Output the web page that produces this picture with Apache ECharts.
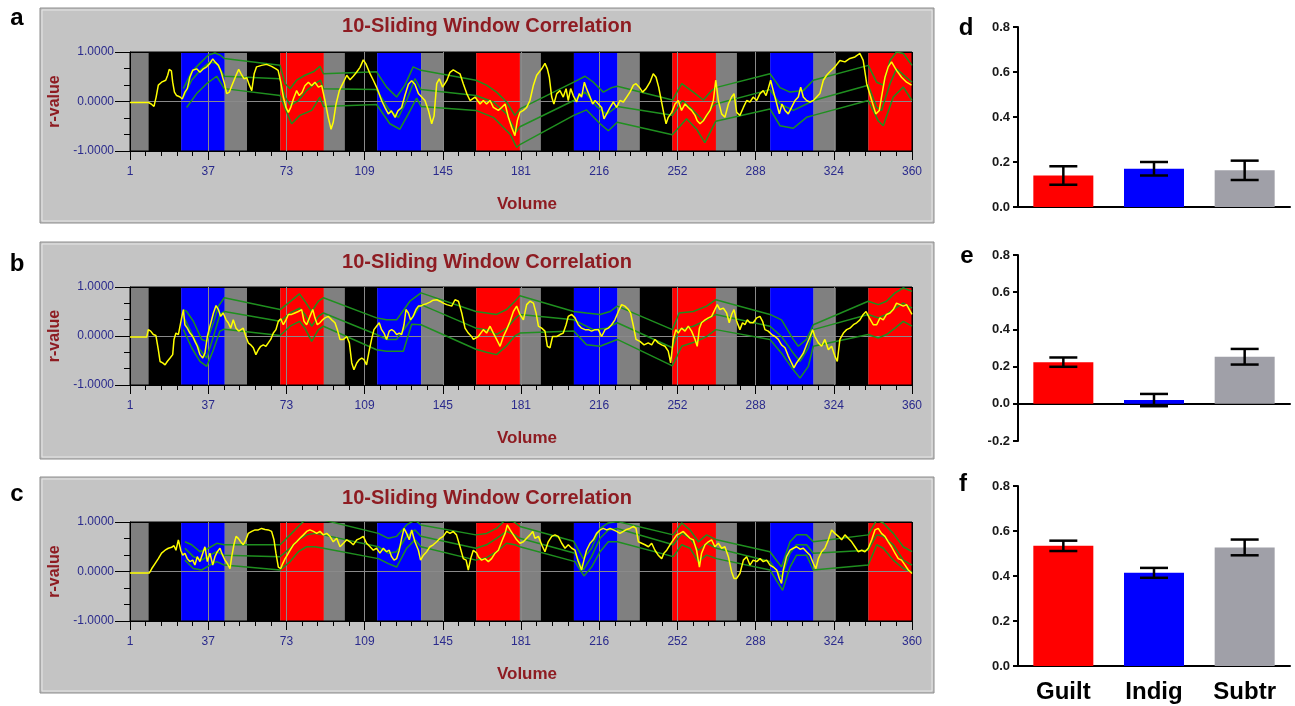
<!DOCTYPE html>
<html>
<head>
<meta charset="utf-8">
<script src="https://cdn.jsdelivr.net/npm/echarts@6/dist/echarts.min.js"></script>
<style>html,body{margin:0;background:#fff}#main{width:1295px;height:706px}</style>
</head>
<body>
<div id="main"></div>
<script>
// condition blocks along the volume axis
var bandStart = [1, 9.5, 24.5, 44.5, 54.7, 70, 90, 99.6, 114.5, 134.7, 145, 160, 180, 189.6, 204.8, 224.8, 235, 250, 270, 279.6, 294.9, 314.8, 325, 340];
var bandEnd   = [9.5, 24.5, 44.5, 54.7, 70, 90, 99.6, 114.5, 134.7, 145, 160, 180, 189.6, 204.8, 224.8, 235, 250, 270, 279.6, 294.9, 314.8, 325, 340, 360];
var bandKind  = ['gray','black','blue','gray','black','red','gray','black','blue','gray','black','red','gray','black','blue','gray','black','red','gray','black','blue','gray','black','red'];

// panel a: sliding r and the three green curves
var yellowA = [[1,-0.02],[9.5,-0.02],[11,-0.06],[12,-0.1],[13,0.09],[14,0.33],[15.5,0.39],[17.4,0.43],[18.3,0.53],[19,0.65],[20,0.62],[20.6,0.39],[21.4,0.19],[22.4,0.12],[24,0.09],[25,0.05],[26.2,0.19],[27.3,0.26],[28.5,0.49],[29.8,0.63],[31.6,0.66],[33.1,0.59],[34.7,0.66],[36.2,0.7],[37.7,0.77],[39,0.86],[40,0.8],[41.6,0.73],[42.8,0.6],[44.2,0.39],[45.4,0.16],[46.6,0.19],[48.1,0.36],[49.7,0.53],[50.9,0.65],[52,0.56],[53.3,0.46],[54.6,0.48],[55.8,0.33],[56.9,0.22],[58,0.56],[59.1,0.7],[61.4,0.73],[63.7,0.75],[66,0.71],[68,0.66],[69,0.63],[70.2,0.39],[71.4,0.09],[72.6,-0.12],[73.7,-0.22],[74.8,-0.12],[76,0.05],[77.5,0.22],[78.7,0.12],[80,0.18],[81.3,0.32],[82.9,0.39],[84.4,0.32],[85.9,0.39],[87.5,0.29],[89,0.32],[90.5,0.02],[92,-0.32],[93.3,-0.56],[94.3,-0.42],[95.6,-0.05],[97.1,0.22],[99,0.39],[100.5,0.53],[102,0.44],[103.5,0.51],[105,0.59],[106.6,0.69],[108.1,0.84],[109.3,0.76],[110.9,0.59],[112.7,0.43],[114.5,0.26],[116.5,0.02],[118,-0.12],[119.6,-0.25],[121,-0.19],[122.7,-0.32],[124,-0.19],[125.7,-0.12],[127.2,0.12],[128.8,0.35],[130.3,0.42],[131.8,0.35],[133.4,0.16],[134.9,0.09],[136.4,0.02],[138,-0.18],[139.5,-0.45],[140.6,-0.29],[141.8,0.36],[143,0.46],[144.5,0.29],[146.4,0.42],[147.9,0.59],[149.4,0.64],[151.3,0.59],[152.5,0.56],[154,0.36],[155.6,0.16],[157.1,0.02],[159.4,0.09],[161.7,-0.05],[163.2,0.02],[164.7,-0.05],[166.3,0.02],[167.8,-0.12],[170.1,-0.18],[171.6,-0.12],[173.2,-0.05],[174.7,-0.32],[176.2,-0.52],[177.7,-0.69],[178.8,-0.39],[180,-0.22],[181.6,-0.18],[183.1,-0.12],[184.6,0.02],[186.2,0.33],[187.7,0.53],[190,0.66],[191.5,0.77],[192.6,0.66],[193.5,0.49],[194.6,0.09],[195.6,-0.05],[196.9,0.16],[198.4,0.22],[199.9,0.09],[201.2,0.26],[202.2,0.02],[203.3,0.26],[204.5,0.12],[206,-0.01],[207.3,0.16],[208.3,0.09],[209.6,0.39],[210.6,0.26],[212.2,0.09],[213.4,-0.05],[214.5,0.02],[216,-0.05],[217.5,-0.12],[218.6,-0.35],[219.8,-0.25],[221.4,-0.12],[222.9,-0.01],[224.4,-0.12],[225.9,0.02],[227.5,-0.01],[229,0.09],[230.5,0.19],[232.1,0.33],[233.3,0.36],[234.8,0.29],[236.3,0.19],[237.9,0.26],[239.7,0.39],[241.2,0.56],[242.5,0.49],[243.7,0.29],[244.9,0.02],[246.1,-0.25],[247.1,-0.45],[248.1,-0.32],[249.7,-0.22],[251.2,-0.05],[252.7,0.02],[254.2,-0.18],[255.8,-0.05],[257.3,-0.12],[258.8,-0.18],[260.4,-0.28],[261.4,-0.39],[262.7,-0.45],[264.2,-0.39],[265.7,-0.28],[267.3,-0.18],[268.8,0.02],[269.9,0.43],[271.1,0.02],[272.6,-0.25],[274.1,-0.32],[275.7,-0.05],[277.2,0.09],[278.3,0.16],[279.5,-0.22],[281,-0.28],[282.6,-0.12],[284.1,0.02],[285.6,-0.01],[287.1,0.09],[288.7,0.02],[290.2,0.16],[291.7,0.22],[293,0.12],[294,0.26],[295.1,0.43],[296.3,0.22],[297.5,0.02],[299.1,-0.25],[300.3,-0.05],[301.7,-0.18],[303.2,-0.25],[304.7,-0.12],[306.3,0.02],[307.8,0.09],[308.9,0.29],[310.1,0.09],[311.6,0.02],[313.2,-0.01],[314.7,0.02],[316.2,0.09],[317.7,0.16],[319.3,0.43],[320.8,0.53],[322.3,0.6],[324.6,0.7],[326.9,0.83],[329.2,0.8],[331.5,0.87],[333.8,0.9],[336.1,0.97],[337.6,0.83],[339.2,0.36],[341.5,0.02],[343.4,-0.25],[345,-0.18],[346,0.09],[347.6,0.49],[349.1,0.7],[350.6,0.8],[352.9,0.63],[355.2,0.49],[357.5,0.39],[359.8,0.33]];
var greenUpA = [[25.5,0.26],[29.3,0.6],[33.1,0.77],[37,0.94],[40,0.98],[42.3,0.94],[44.3,0.87],[69.9,0.73],[72.2,0.36],[74.5,0.26],[77.5,0.43],[81.3,0.53],[85.2,0.6],[88.2,0.71],[89.8,0.56],[114.2,0.6],[118.8,0.29],[123.4,0.09],[127.2,0.33],[131,0.7],[134.6,0.63],[159.8,0.43],[164.7,0.33],[169.3,0.19],[173.9,-0.01],[177.7,-0.28],[180,-0.15],[204.7,0.39],[209.9,0.51],[213.7,0.39],[218.3,0.19],[222.1,0.28],[224.7,0.31],[250,0.03],[254.3,0.36],[259.6,0.19],[264.2,0.03],[268,0.22],[269.9,0.28],[294.8,0.56],[299.4,0.28],[304,0.19],[310.1,0.22],[314.7,0.43],[339.9,0.73],[343.8,0.39],[346.8,0.33],[349.9,0.83],[352.9,1.0],[356,0.97],[360,0.73]];
var greenMidA = [[25.5,0.09],[29.3,0.43],[33.9,0.66],[37.7,0.8],[40.8,0.77],[44.3,0.51],[69.9,0.46],[72.2,0.09],[74.8,-0.08],[78.3,0.02],[82.1,0.22],[85.9,0.36],[88.5,0.43],[89.8,0.26],[114.2,0.24],[119.6,-0.15],[124.2,-0.32],[128,0.02],[131.8,0.46],[134.6,0.24],[159.8,0.12],[167.8,-0.01],[173.9,-0.25],[178.2,-0.62],[180,-0.51],[204.7,0.02],[209.9,0.19],[215.2,-0.1],[219.8,-0.26],[224.7,-0.1],[250,-0.28],[254.7,0.02],[259.6,-0.18],[264.2,-0.39],[268.5,-0.1],[269.9,-0.05],[294.8,0.24],[299.4,-0.05],[305.5,-0.18],[311.6,-0.05],[314.7,0.02],[339.9,0.33],[343.8,-0.12],[346,-0.18],[349.9,0.36],[352.9,0.66],[360,0.39]];
var greenLowA = [[27,-0.12],[31.6,0.16],[36.2,0.36],[40.8,0.51],[44.3,0.26],[69.9,0.12],[72.6,-0.18],[75.2,-0.45],[79,-0.28],[84.4,-0.18],[88.2,0.09],[89.8,-0.1],[114.2,-0.06],[120.3,-0.45],[124.9,-0.56],[128.8,-0.25],[132.6,0.07],[134.6,-0.1],[159.8,-0.18],[167.8,-0.32],[175.5,-0.66],[178.5,-0.93],[180,-0.87],[204.7,-0.28],[210.6,-0.17],[216.8,-0.45],[220.6,-0.59],[224.7,-0.42],[250,-0.67],[256.5,-0.35],[261.1,-0.56],[264.9,-0.83],[269.9,-0.4],[294.8,-0.15],[299.4,-0.49],[305.5,-0.54],[311.6,-0.32],[314.7,-0.28],[339.9,0.02],[344.5,-0.39],[346.8,-0.49],[351.4,0.09],[356,0.29],[360,0.02]];

// panel b
var yellowB = [[1,-0.02],[8.7,-0.02],[9.4,0.13],[10.5,0.1],[11.7,0.03],[12.9,0.01],[14,-0.28],[14.8,-0.52],[16,-0.55],[17.1,-0.59],[18.1,-0.52],[19.4,-0.45],[20.6,-0.38],[21.2,-0.07],[22.1,0.06],[23.2,0.03],[24,0.07],[24.7,0.37],[25.5,0.54],[26.2,0.23],[27.3,0.16],[28.5,0.06],[29.8,-0.01],[30.8,-0.11],[31.9,-0.21],[33.1,-0.38],[34.4,-0.45],[35.4,-0.35],[36.5,-0.01],[37.7,0.2],[39.3,0.47],[40.5,0.62],[41.6,0.54],[42.6,0.4],[43.8,0.47],[45.1,0.33],[46.1,0.27],[47.2,0.16],[48.4,0.33],[49.7,0.16],[50.9,0.1],[51.8,0.13],[53,0.16],[54.2,-0.01],[55.3,-0.14],[56.4,-0.18],[57.6,-0.24],[58.8,-0.38],[59.9,-0.28],[61,-0.21],[62.2,-0.18],[63.4,-0.21],[64.5,-0.14],[65.6,-0.07],[66.8,0.06],[68,0.13],[69.1,0.3],[70.2,0.35],[71.4,0.23],[72.6,0.33],[73.7,0.44],[75.2,0.44],[76.7,0.47],[78.3,0.5],[79.8,0.54],[80.9,0.3],[82.1,0.23],[83.6,0.4],[84.9,0.54],[85.9,0.37],[87,0.23],[88.2,0.27],[89.4,0.33],[90.5,0.37],[92,0.4],[93.6,0.33],[95.1,0.27],[96.2,0.13],[97.4,-0.07],[99,-0.07],[100.5,-0.01],[101.7,-0.14],[102.8,-0.55],[103.8,-0.69],[105.1,-0.55],[106.3,-0.48],[107.4,-0.45],[108.4,-0.48],[109.6,-0.59],[110.9,-0.28],[111.9,-0.07],[113,0.13],[114.2,0.2],[115.4,0.27],[116.5,0.13],[117.6,0.06],[118.8,-0.07],[120,0.1],[121.1,0.13],[122.2,0.1],[123.4,0.03],[124.6,0.06],[125.7,0.03],[126.8,0.23],[127.7,0.54],[128.8,0.47],[129.8,0.33],[131,0.4],[132.3,0.54],[133.4,0.61],[134.4,0.61],[135.7,0.64],[137.2,0.66],[138.7,0.69],[140.2,0.73],[141.8,0.74],[143.3,0.71],[144.8,0.67],[146.4,0.64],[148.7,0.61],[150.2,0.74],[151.8,0.71],[153.3,0.47],[154.8,0.16],[156.3,0.06],[157.8,-0.01],[158.6,-0.07],[160.9,-0.01],[163.2,0.13],[164.7,0.06],[166.3,0.2],[167.8,0.06],[169.3,-0.07],[170.9,-0.21],[172.4,-0.01],[173.9,0.13],[175.5,0.3],[177,0.5],[178.5,0.61],[180,0.44],[181.6,0.33],[183.1,0.64],[184.6,0.71],[186.2,0.67],[187.4,0.47],[188.5,0.2],[190,0.16],[191.5,0.1],[192.6,-0.21],[193.8,-0.24],[195,-0.01],[196.9,-0.01],[198.4,0.03],[199.9,0.06],[201.2,0.23],[202.2,0.4],[203.8,0.44],[205.3,0.37],[206.8,0.23],[208.3,0.16],[209.9,0.13],[211.4,0.13],[212.9,0.1],[214.5,0.13],[216,0.13],[217.5,-0.01],[219.1,0.13],[220.6,0.16],[222.1,0.23],[223.6,0.33],[225.2,0.5],[226.7,0.64],[228.2,0.61],[229.8,0.54],[230.8,0.47],[232.1,0.2],[233.3,-0.07],[235.1,-0.11],[237,-0.18],[238.9,-0.14],[240.5,-0.18],[242,-0.07],[243.5,-0.14],[245.1,-0.18],[246.6,-0.21],[248.1,-0.31],[249.2,-0.55],[250.4,-0.07],[251.6,0.13],[252.7,0.06],[254.2,0.16],[255.8,0.1],[257.3,0.2],[258.8,0.1],[260.4,-0.07],[261.4,-0.21],[262.4,0.16],[263.4,0.27],[265,0.33],[266.5,0.37],[268,0.4],[269.5,0.54],[270.6,0.64],[271.8,0.54],[273.4,0.57],[274.9,0.47],[276.1,0.27],[277.2,0.44],[278.3,0.54],[279.5,0.3],[281,0.13],[282.2,0.27],[283.3,0.23],[284.4,0.33],[285.6,0.27],[287.1,0.27],[288.7,0.37],[290.2,0.4],[291.4,0.3],[292.5,0.13],[294,0.1],[295.6,0.03],[297.1,-0.01],[298.6,-0.07],[300.1,-0.18],[301.7,-0.24],[303.2,-0.41],[304.7,-0.55],[305.8,-0.65],[307,-0.55],[308.6,-0.45],[310.1,-0.35],[311.6,-0.18],[313.2,-0.01],[314.4,0.13],[315.4,-0.01],[317,-0.14],[318.5,-0.21],[320,-0.07],[321.6,-0.28],[323.1,-0.21],[324.6,-0.41],[325.7,-0.52],[326.9,-0.07],[328.5,0.06],[330,0.13],[331.5,0.16],[333.1,0.23],[334.6,0.27],[336.1,0.33],[337.6,0.44],[338.9,0.5],[340.4,0.37],[342.2,0.23],[343.8,0.23],[345.3,0.37],[346.8,0.33],[348.3,0.44],[349.9,0.47],[351.4,0.54],[352.9,0.67],[354.5,0.64],[356,0.61],[357.5,0.64],[360,0.44]];
var greenUpB = [[25.5,0.54],[27,0.5],[30.1,0.3],[33.9,-0.07],[36.2,-0.11],[39.3,0.27],[41.6,0.61],[44.3,0.78],[69.9,0.54],[74.5,0.7],[78.8,0.86],[81.3,0.71],[84.4,0.5],[87.5,0.71],[89.8,0.78],[114.2,0.37],[118.8,0.33],[123.4,0.33],[129.5,0.71],[134.6,0.88],[159.8,0.5],[164.7,0.47],[169.3,0.44],[173.9,0.54],[177.7,0.71],[180,0.82],[204.7,0.5],[210.6,0.47],[216.8,0.44],[221.4,0.5],[224.7,0.61],[250,0.13],[253.1,0.47],[259.6,0.5],[265.7,0.61],[269.9,0.74],[294.8,0.44],[300.1,0.33],[305.5,-0.07],[307.8,-0.21],[311.6,-0.07],[314.7,0.23],[339.9,0.71],[344.5,0.64],[348.3,0.71],[352.2,0.88],[356,0.98],[360,0.91]];
var greenMidB = [[25.5,0.4],[29.3,0.06],[33.1,-0.28],[36.2,-0.45],[39.3,-0.01],[42.3,0.44],[44.3,0.5],[69.9,0.3],[74.5,0.47],[78.8,0.57],[81.3,0.44],[84.4,0.2],[87.5,0.4],[89.8,0.47],[114.2,0.03],[118.8,-0.07],[123.4,-0.07],[129,0.27],[134.6,0.64],[159.8,0.16],[164.7,0.13],[169.3,0.03],[173.9,0.16],[177.7,0.35],[180,0.44],[204.7,0.33],[213.7,0.13],[219.8,0.16],[224.7,0.27],[250,-0.24],[253.1,0.13],[259.6,0.2],[265.7,0.33],[269.9,0.44],[294.8,0.2],[300.1,-0.01],[305.5,-0.35],[308.6,-0.52],[312.4,-0.24],[314.7,0.13],[339.9,0.44],[344.5,0.37],[348.3,0.44],[352.2,0.57],[356,0.67],[360,0.57]];
var greenLowB = [[25.5,0.13],[29.3,-0.24],[33.1,-0.52],[36.2,-0.62],[39.3,-0.28],[42.3,0.1],[44.3,0.14],[69.9,0.01],[74.5,0.2],[78.8,0.3],[81.3,0.16],[84.4,-0.11],[87.5,0.13],[89.8,0.2],[114.2,-0.28],[118.8,-0.31],[126.5,-0.31],[130.3,0.24],[134.6,0.23],[159.8,-0.27],[164.7,-0.33],[169.3,-0.38],[173.9,-0.2],[177.7,0.0],[180,0.06],[204.7,0.1],[210.6,-0.18],[216.8,-0.21],[224.7,-0.07],[250,-0.61],[254.3,-0.21],[261.1,-0.11],[265.7,-0.01],[269.9,0.13],[294.8,-0.07],[300.1,-0.35],[305.5,-0.69],[308.6,-0.86],[312.4,-0.62],[314.7,-0.21],[339.9,0.03],[344.5,-0.04],[348.3,0.03],[352.2,0.16],[356,0.3],[360,0.2]];

// panel c
var yellowC = [[1,-0.03],[9.9,-0.03],[11,0.06],[12.5,0.16],[14,0.26],[15.5,0.37],[17.1,0.43],[18.6,0.47],[20.1,0.49],[21.2,0.52],[22.1,0.43],[23.2,0.64],[24.3,0.43],[25.2,0.33],[26.2,0.37],[27.3,0.26],[28.5,0.2],[29.8,0.23],[30.8,0.13],[31.9,0.3],[33.1,0.2],[34.4,0.37],[35.4,0.5],[36.5,0.2],[37.7,0.37],[39,0.13],[40,0.3],[41.1,0.4],[42.3,0.47],[43.5,0.33],[44.6,0.23],[45.7,0.16],[46.9,0.06],[47.7,0.3],[48.7,0.54],[49.7,0.71],[50.7,0.67],[51.8,0.6],[53,0.54],[54.2,0.64],[55.3,0.77],[56.9,0.81],[58.4,0.84],[59.9,0.84],[61.4,0.87],[63,0.85],[64.5,0.84],[66,0.81],[67.1,0.64],[68,0.37],[69.1,0.09],[70.2,0.06],[71.1,0.16],[72.2,0.26],[73.2,0.33],[74.5,0.43],[76,0.54],[77.5,0.6],[79,0.67],[80.6,0.74],[82.1,0.81],[83.6,0.84],[85.2,0.81],[86.7,0.77],[88.2,0.81],[89.8,0.74],[91.3,0.77],[92.8,0.71],[94.3,0.6],[95.9,0.67],[97.4,0.5],[99,0.57],[100.5,0.64],[102,0.6],[103.5,0.54],[105.1,0.64],[106.6,0.67],[108.1,0.71],[109.6,0.57],[111.2,0.5],[112.7,0.43],[114.2,0.47],[115.7,0.37],[117.3,0.47],[118.8,0.4],[120,0.43],[121.1,0.3],[122.2,0.23],[123.4,0.26],[124.6,0.43],[125.7,0.67],[126.8,0.87],[128,0.77],[129.2,0.64],[130.3,0.84],[131.8,0.6],[133.4,0.43],[134.4,0.23],[135.7,0.33],[137.2,0.4],[138.7,0.5],[140.2,0.54],[141.8,0.6],[143.3,0.67],[144.8,0.71],[146.4,0.81],[147.9,0.77],[149.4,0.81],[150.9,0.74],[152.5,0.5],[154,0.26],[155.3,0.23],[156.3,0.03],[157.4,0.26],[158.6,0.43],[160.2,0.37],[160.9,0.3],[162.4,0.23],[164,0.26],[165.5,0.2],[167,0.26],[168.6,0.37],[170.1,0.43],[171.6,0.6],[173.2,0.77],[174.2,0.94],[175.5,0.84],[177,0.74],[178.5,0.64],[180,0.57],[181.6,0.6],[183.1,0.67],[184.6,0.74],[185.9,0.81],[186.9,0.67],[188.5,0.71],[190,0.54],[191.5,0.4],[193,0.6],[194.6,0.71],[196.1,0.74],[197.6,0.71],[199.2,0.57],[200.7,0.47],[202.2,0.54],[203.8,0.47],[205.3,0.43],[206.8,0.2],[208.3,0.03],[209.4,0.23],[210.6,0.43],[212.2,0.57],[213.7,0.64],[215.2,0.77],[216.8,0.84],[218.3,0.87],[219.8,0.84],[221.4,0.87],[222.9,0.84],[224.4,0.81],[225.9,0.77],[227.5,0.81],[229,0.85],[230.5,0.87],[232.1,0.91],[233.3,0.87],[234.4,0.6],[235.9,0.57],[237.4,0.54],[239,0.5],[240.5,0.57],[242,0.43],[243.5,0.33],[245.1,0.26],[246.1,0.37],[247.4,0.43],[248.9,0.54],[250.4,0.64],[252,0.74],[253.5,0.77],[255,0.81],[256.5,0.74],[258.1,0.67],[259.6,0.64],[261.1,0.43],[262.4,0.09],[263.4,0.37],[265,0.54],[266.5,0.6],[268,0.64],[269.5,0.5],[271.1,0.57],[272.6,0.47],[274.1,0.5],[275.7,0.3],[277.2,-0.01],[278.3,-0.14],[279.5,-0.14],[281,-0.04],[282.6,0.23],[284.1,0.3],[285.6,0.13],[287.1,0.23],[288.7,0.2],[290.2,0.26],[291.7,0.2],[293.3,0.23],[294.8,0.13],[296.3,0.09],[297.9,0.03],[299.1,-0.14],[300.1,-0.24],[300.9,0.03],[302.4,0.3],[304,0.43],[305.5,0.47],[307,0.5],[308.6,0.45],[310.1,0.47],[311.6,0.4],[313.2,0.33],[314.7,0.16],[315.9,0.06],[317,0.26],[318.5,0.4],[320,0.47],[321.6,0.64],[323.1,0.84],[324.6,0.77],[326.2,0.71],[327.7,0.64],[329.2,0.74],[330.7,0.67],[332.3,0.6],[333.8,0.5],[335.3,0.4],[336.9,0.43],[338.4,0.4],[339.9,0.47],[341.5,0.64],[343,0.84],[344.5,0.87],[346,0.77],[347.6,0.71],[349.1,0.6],[350.6,0.5],[352.2,0.37],[353.7,0.26],[355.2,0.23],[356.8,0.13],[358.3,0.03],[360,-0.04]];
var greenUpC = [[26.2,0.6],[29.3,0.54],[33.1,0.4],[37,0.47],[40.8,0.57],[44.3,0.54],[69.9,0.54],[74.5,0.74],[78.3,0.91],[81.3,1.04],[85.9,1.1],[89.8,1.04],[115,0.77],[119.6,0.67],[123.4,0.71],[128,0.94],[131.8,1.04],[134.6,0.94],[159.8,0.74],[164.7,0.77],[169.3,0.87],[173.2,1.04],[177,1.01],[180,0.91],[204.7,0.61],[209.1,0.26],[212.9,0.47],[216.8,0.87],[220.6,0.98],[224.7,1.01],[250.4,0.74],[254.3,0.98],[258.1,0.84],[261.9,0.6],[265.7,0.74],[270.3,0.64],[294.8,0.4],[300.1,0.09],[304,0.6],[307,0.74],[311.6,0.74],[314.7,0.6],[339.9,0.74],[343.8,1.04],[346.8,0.98],[351.4,0.77],[356,0.5],[360,0.4]];
var greenMidC = [[26.2,0.47],[30.1,0.3],[33.9,0.23],[37.7,0.33],[40.8,0.4],[44.3,0.33],[69.9,0.3],[74.5,0.47],[78.3,0.64],[82.1,0.74],[85.9,0.77],[89.8,0.74],[115,0.5],[119.6,0.37],[123.4,0.4],[128,0.71],[131.8,0.84],[134.6,0.71],[159.8,0.47],[164.7,0.54],[169.3,0.67],[173.9,0.81],[177.7,0.74],[180,0.67],[205.3,0.37],[209.1,0.03],[212.9,0.3],[216.8,0.67],[220.6,0.84],[224.7,0.87],[250.4,0.54],[254.3,0.77],[258.1,0.67],[261.9,0.43],[265.7,0.57],[270.3,0.47],[294.8,0.2],[300.1,-0.11],[304,0.37],[307,0.54],[311.6,0.54],[314.7,0.37],[339.9,0.43],[343.8,0.74],[346.8,0.71],[351.4,0.54],[356,0.23],[360,0.13]];
var greenLowC = [[26.2,0.23],[30.1,0.06],[33.9,0.03],[37.7,0.13],[40.8,0.2],[44.3,0.13],[69.9,0.03],[74.5,0.2],[78.3,0.4],[82.1,0.5],[85.9,0.5],[89.8,0.47],[115,0.26],[119.6,0.16],[123.4,0.09],[128,0.47],[131.8,0.64],[134.6,0.5],[159.8,0.23],[164.7,0.28],[169.3,0.4],[173.9,0.57],[177.7,0.54],[180,0.5],[205.3,0.2],[209.4,-0.09],[212.9,0.09],[216.8,0.4],[220.6,0.6],[224.7,0.6],[250.4,0.3],[254.3,0.54],[258.1,0.47],[261.9,0.2],[265.7,0.33],[270.3,0.26],[294.8,0.03],[300.6,-0.38],[304,0.09],[307,0.33],[311.6,0.33],[314.7,0.03],[339.9,0.13],[343.8,0.54],[346.8,0.47],[351.4,0.23],[356,0.06],[360,-0.01]];

// bar panels d, e, f
var conditions = ['Guilt', 'Indig', 'Subtr'];
var meanD = [0.14, 0.17, 0.163];
var errD  = [0.041, 0.03, 0.043];
var meanE = [0.224, 0.02, 0.253];
var errE  = [0.025, 0.033, 0.042];
var meanF = [0.534, 0.414, 0.527];
var errF  = [0.023, 0.022, 0.035];

var FONT = 'Liberation Sans';
var navy = '#2a2a8c';
var darkRed = '#8e1c22';
var bandColor = { gray: '#808080', black: '#000000', blue: '#0000ff', red: '#ff0000' };
var barColors = ['#ff0000', '#0000ff', '#a0a0a8'];

// volume axis runs from 0 so the 35.9 step lands on 1, 37, 73 ... 360
function shift(arr) { return arr.map(function (p) { return [p[0] - 1, p[1]]; }); }

var bands = bandStart.map(function (s, i) { return [s - 1, bandEnd[i] - 1, i]; });

var panels = [
  { box: [40, 8, 894, 215], top: 52, h: 99, titleY: 26, letter: 'a', ly: 18, yel: yellowA, g: [greenUpA, greenMidA, greenLowA] },
  { box: [40, 242, 894, 217], top: 287, h: 98, titleY: 262, letter: 'b', ly: 264, yel: yellowB, g: [greenUpB, greenMidB, greenLowB] },
  { box: [40, 477, 894, 216], top: 522, h: 99, titleY: 498, letter: 'c', ly: 494, yel: yellowC, g: [greenUpC, greenMidC, greenLowC] }
];
var bars = [
  { top: 27, h: 180, min: 0, letter: 'd', lx: 966, ly: 28, mean: meanD, err: errD, labels: false },
  { top: 255, h: 186, min: -0.2, letter: 'e', lx: 967, ly: 256, mean: meanE, err: errE, labels: false },
  { top: 486, h: 180, min: 0, letter: 'f', lx: 963, ly: 484, mean: meanF, err: errF, labels: true }
];

var grid = [], xAxis = [], yAxis = [], series = [], graphic = [];
var xSplitColors = [];
for (var k = 0; k <= 10; k++) xSplitColors.push(k === 0 || k === 10 ? '#000' : '#8a8a8a');

function txt(x, y, text, font, color) {
  return { type: 'text', x: x, y: y, z: 20,
    style: { text: text, font: font, fill: color, align: 'center', verticalAlign: 'middle', textAlign: 'center', textVerticalAlign: 'middle' } };
}

panels.forEach(function (p, i) {
  var b = p.box;
  graphic.push({ type: 'rect', z: -10, shape: { x: b[0], y: b[1], width: b[2], height: b[3] },
    style: { fill: '#c4c4c4', stroke: '#8c8c8c', lineWidth: 1 } });
  graphic.push({ type: 'rect', z: -9, shape: { x: b[0] + 2, y: b[1] + 2, width: b[2] - 4, height: b[3] - 4 },
    style: { fill: 'none', stroke: '#e6e6e6', lineWidth: 1 } });
  graphic.push(txt(b[0] + b[2] / 2, p.titleY, '10-Sliding Window Correlation', 'bold 20px "' + FONT + '"', darkRed));
  graphic.push(txt(17, p.ly, p.letter, 'bold 24px "' + FONT + '"', '#000'));

  grid.push({ left: 130, top: p.top, width: 782, height: p.h, show: true, borderColor: '#000', borderWidth: 1 });
  xAxis.push({
    gridIndex: i, type: 'value', min: 0, max: 359, interval: 35.9,
    name: 'Volume', nameLocation: 'middle', nameGap: 45,
    nameTextStyle: { color: darkRed, fontFamily: FONT, fontWeight: 'bold', fontSize: 17, padding: [0, 0, 0, 12] },
    axisLine: { onZero: false, lineStyle: { color: '#000', width: 1 } },
    axisTick: { length: 9, lineStyle: { color: '#000' } },
    minorTick: { show: true, splitNumber: 5, length: 5, lineStyle: { color: '#000' } },
    axisLabel: { margin: 15, color: navy, fontFamily: FONT, fontSize: 12, formatter: function (v) { return String(Math.round(v + 1)); } },
    splitLine: { show: true, lineStyle: { color: xSplitColors, width: 1 } }
  });
  yAxis.push({
    gridIndex: i, type: 'value', min: -1, max: 1, interval: 1,
    name: 'r-value', nameLocation: 'middle', nameGap: 62,
    nameTextStyle: { color: darkRed, fontFamily: FONT, fontWeight: 'bold', fontSize: 16 },
    axisLine: { show: true, onZero: false, lineStyle: { color: '#000', width: 1 } },
    axisTick: { show: true, length: 15, lineStyle: { color: '#000' } },
    minorTick: { show: true, splitNumber: 3, length: 6, lineStyle: { color: '#000' } },
    axisLabel: { margin: 16, color: navy, fontFamily: FONT, fontSize: 12, formatter: function (v) { return v.toFixed(4); } },
    splitLine: { show: true, lineStyle: { color: ['#000', '#8a8a8a', '#000'], width: 1 } }
  });

  series.push({
    type: 'custom', xAxisIndex: i, yAxisIndex: i, z: -5, silent: true,
    data: bands, encode: { x: [0, 1] },
    renderItem: function (params, api) {
      var a = api.coord([api.value(0), 1]);
      var c = api.coord([api.value(1), -1]);
      return { type: 'rect', shape: { x: a[0], y: a[1], width: c[0] - a[0], height: c[1] - a[1] },
        style: { fill: bandColor[bandKind[api.value(2)]] } };
    }
  });
  p.g.forEach(function (g) {
    series.push({ type: 'line', xAxisIndex: i, yAxisIndex: i, data: shift(g), showSymbol: false, silent: true,
      lineStyle: { color: '#1f8f1f', width: 1.5 }, z: 3 });
  });
  series.push({ type: 'line', xAxisIndex: i, yAxisIndex: i, data: shift(p.yel), showSymbol: false, silent: true,
    lineStyle: { color: '#ffff00', width: 1.5 }, z: 4 });
});

bars.forEach(function (p, j) {
  var gi = panels.length + j;
  graphic.push(txt(p.lx, p.ly, p.letter, 'bold 24px "' + FONT + '"', '#000'));
  grid.push({ left: 1018, top: p.top, width: 272, height: p.h });
  xAxis.push({
    gridIndex: gi, type: 'category', data: conditions,
    axisLine: { lineStyle: { color: '#000', width: 2 } },
    axisTick: { show: false },
    axisLabel: { show: p.labels, margin: 14, color: '#000', fontFamily: FONT, fontWeight: 'bold', fontSize: 24 }
  });
  yAxis.push({
    gridIndex: gi, type: 'value', min: p.min, max: 0.8, interval: 0.2,
    axisLine: { show: true, lineStyle: { color: '#000', width: 2 } },
    axisTick: { show: true, length: 5, lineStyle: { color: '#000', width: 2 } },
    axisLabel: { margin: 8, color: '#1a1a1a', fontFamily: FONT, fontWeight: 'bold', fontSize: 13, formatter: function (v) { return v.toFixed(1); } },
    splitLine: { show: false }
  });
  series.push({
    type: 'bar', xAxisIndex: gi, yAxisIndex: gi, barWidth: 60, silent: true,
    data: p.mean.map(function (m, c) { return { value: m, itemStyle: { color: barColors[c] } }; })
  });
  series.push({
    type: 'custom', xAxisIndex: gi, yAxisIndex: gi, z: 5, silent: true,
    data: p.mean.map(function (m, c) { return [c, m - p.err[c], m + p.err[c]]; }),
    encode: { x: 0, y: [1, 2] },
    renderItem: function (params, api) {
      var hi = api.coord([api.value(0), api.value(2)]);
      var lo = api.coord([api.value(0), api.value(1)]);
      var w = 14, st = { stroke: '#000', lineWidth: 2.5 };
      return { type: 'group', children: [
        { type: 'line', shape: { x1: hi[0], y1: hi[1], x2: lo[0], y2: lo[1] }, style: st },
        { type: 'line', shape: { x1: hi[0] - w, y1: hi[1], x2: hi[0] + w, y2: hi[1] }, style: st },
        { type: 'line', shape: { x1: lo[0] - w, y1: lo[1], x2: lo[0] + w, y2: lo[1] }, style: st }
      ] };
    }
  });
});

var chart = echarts.init(document.getElementById('main'));
chart.setOption({
  backgroundColor: '#ffffff',
  animation: false,
  grid: grid,
  xAxis: xAxis,
  yAxis: yAxis,
  series: series,
  graphic: graphic
});
</script>
</body>
</html>
